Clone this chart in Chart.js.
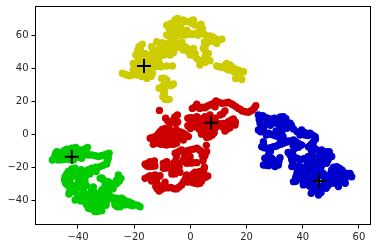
<!DOCTYPE html>
<html>
<head>
<meta charset="utf-8">
<style>
    html, body { margin: 0; padding: 0; background: #fff; }
    canvas { display: block; }
</style>
<script src="https://cdn.jsdelivr.net/npm/chart.js@4/dist/chart.umd.js"></script>
</head>
<body>
<canvas id="kmeans" width="377" height="248"></canvas>
<script>
const xTicks = [-40, -20, 0, 20, 40, 60];
const yTicks = [-40, -20, 0, 20, 40, 60];

const yellowX = [-24.2,-22.6,-20.9,-19.1,-17.3,-15.5,-14.0,-13.5,-14.9,-16.7,-18.5,-20.3,-20.3,-18.5,-19.4,-17.9,-18.3,-17.1,-16.1,-14.3,-12.6,-12.0,-13.2,-14.3,-15.5,-12.8,-13.8,-12.0,-10.8,-11.4,-9.6,-7.8,-7.2,-8.4,-6.6,-8.4,-5.5,-4.3,-2.5,-0.7,1.1,1.7,-0.1,-1.9,2.3,-12.0,-10.2,-8.4,-6.4,-10.2,-8.4,-9.4,-11.1,-9.2,-9.8,-9.0,-7.5,-6.6,-6.0,-8.4,-6.6,-5.5,-4.6,-6.0,-4.3,-2.5,-0.7,1.1,1.7,-0.1,-1.9,-3.7,-5.5,1.7,3.8,4.3,4.6,7.0,8.8,11.2,9.4,6.4,5.2,4.6,6.4,5.8,7.0,4.6,3.4,-1.3,-3.1,9.4,11.2,12.9,14.1,13.5,14.7,16.5,18.9,17.7,16.1,18.3];
const yellowY = [37.0,36.0,36.0,36.0,35.0,33.9,35.0,37.0,39.0,38.0,39.0,39.0,43.0,45.0,48.1,49.1,53.1,54.7,49.1,47.0,48.1,45.0,43.0,41.0,43.0,51.1,53.1,56.1,54.1,50.1,52.1,53.1,48.1,50.1,55.1,60.2,57.1,54.1,51.1,50.1,52.1,49.1,48.1,53.1,46.0,41.0,41.0,41.4,41.4,33.9,32.9,29.9,27.9,26.8,22.8,21.2,21.2,29.9,30.5,66.2,65.2,69.3,70.3,62.2,65.2,69.3,68.3,69.3,66.2,61.2,60.2,60.2,60.2,61.2,66.8,64.2,61.2,59.6,58.2,57.6,55.1,57.1,54.1,52.1,49.1,45.0,44.6,44.0,42.0,63.2,63.2,41.4,40.6,43.0,42.0,39.0,39.4,39.4,38.0,36.0,33.9,33.3];
const yellowMore = [[-23.4,36.5],[-21.7,35.5],[-20,37],[-18.2,37],[-16.4,36],[-15,36.5],[-19.4,41],[-17.5,42],[-16,45],[-14,45],[-17,47],[-15.5,47.5],[-18.8,50.5],[-17.8,51.5],[-13.5,49.5],[-12.4,46.5],[-13,41],[-11,43],[-11,47],[-10,50],[-9.5,48],[-10,55.5],[-8.8,55],[-7,51],[-5.5,52],[-6,49.5],[-3.5,52.5],[-1.5,51.5],[0.5,49],[-1,52],[-7,58],[-6.5,59.5],[-3,56],[1.5,47.5],[3,45],[-7.5,64],[-7,67],[-5.5,67],[-4,68],[-3.2,67],[-1.5,68.5],[0.3,67.5],[0.5,69],[-5,63],[-4.5,61.5],[-3,61],[-1,60.5],[0.8,60.5],[2.8,60],[3,62],[3.2,65.5],[5.5,60],[8,59],[10,57],[7.8,56.5],[6,55.5],[5,56],[5.2,53],[5.3,50.5],[6,47],[5.2,47],[5.3,43.5],[10.3,41],[12,41.5],[12.5,40],[15,40.5],[15.5,38],[17.5,38.5],[17,35],[-9.3,34],[-8.8,31.5],[-10,29],[-10,27.5],[-9.5,25],[-9.2,24],[-8.2,21],[-7,29.5]];

const redX = [-11.0,0.7,2.3,3.4,5.2,7.0,9.1,11.2,13.5,15.3,17.1,18.5,20.6,22.1,23.3,8.8,12.3,10.6,2.3,0.5,-0.9,1.7,3.4,5.2,7.0,8.8,10.0,8.8,7.0,4.6,4.0,5.8,7.8,3.4,11.7,13.5,15.3,15.9,14.1,12.3,11.4,5.7,-8.8,-7.2,-6.0,-4.6,-5.2,-0.9,0.5,-14.3,-12.6,-10.8,-13.2,-11.4,-9.0,-7.2,-4.9,-9.6,-7.8,-6.0,-4.3,-2.5,-0.7,-2.5,-4.9,-7.2,-9.6,-3.1,-5.4,-4.9,-1.9,-0.1,2.3,4.0,5.8,4.6,-0.1,-2.5,-1.3,2.3,1.1,-16.1,-14.3,-12.8,-14.9,-12.6,-9.6,-8.4,-9.6,-7.2,-6.0,-4.3,-4.9,-6.6,-3.7,-16.1,-14.3,-12.6,-10.8,-13.8,-12.0,-12.3,-11.1,-9.6,-9.0,-6.9,-4.9,-3.1,-1.9,-1.3,-0.1,1.7,3.4,4.6,6.2,5.0,3.4,1.7,4.6];
const redY = [14.5,15.7,18.2,15.7,16.1,17.8,20.2,18.8,19.4,17.8,15.7,14.1,13.3,14.7,17.4,16.7,14.1,11.7,10.7,7.7,5.2,4.6,7.7,10.7,11.7,9.7,6.6,3.6,2.6,2.6,0.1,-2.0,-0.4,4.6,6.6,7.7,9.3,5.6,4.0,2.0,4.6,-6.7,9.7,6.6,8.7,11.7,6.6,9.7,10.1,-2.4,-1.4,1.6,-6.1,-5.5,3.6,2.6,2.6,-1.4,-2.4,-1.4,-0.4,0.6,-1.4,-3.5,-5.5,-6.1,-6.1,-9.5,-11.5,-13.2,-11.5,-9.5,-8.5,-10.5,-10.5,-14.6,-13.6,-15.6,-17.6,-17.2,-17.2,-18.2,-16.6,-16.2,-19.6,-19.2,-17.6,-16.6,-20.6,-20.6,-17.6,-17.6,-21.0,-24.1,-23.0,-26.7,-25.1,-24.7,-25.1,-28.3,-29.1,-31.7,-34.4,-32.7,-29.1,-32.3,-33.1,-30.7,-27.7,-24.7,-28.7,-29.7,-29.7,-26.7,-25.3,-20.0,-22.6,-23.0,-23.6];
const redMore = [[1.5,16.5],[4.3,16.5],[6,17],[8,18.5],[10,19.5],[12.5,19],[14.5,18.5],[16.2,16.8],[17.8,15],[19.5,13.7],[21.3,14],[22.8,16],[11.5,12.5],[1,9],[2.3,8],[2.5,6.5],[4,9.5],[5,8],[6.3,9],[7,7],[8.5,7],[6,5],[7.5,4.5],[5,4],[3,3.3],[8.5,1],[6,0],[3.8,1.5],[6.8,-1.5],[9.3,5],[0,3.5],[12.5,5.5],[14.5,6.5],[16,7.5],[14.5,8.5],[13,3],[11,5],[-8,8],[-6.5,7.6],[-5.5,9.5],[-4.5,7.5],[-0.2,9.9],[-5.5,10.5],[-13.5,-2],[-13,-4],[-12,-3.5],[-11,-2.5],[-11.5,0],[-10,0.5],[-10,3],[-8.5,1],[-8,-4],[-6.5,-4],[-6,0.5],[-5,-3],[-3.5,-2],[-3.5,1.5],[-9.8,-4],[-10.5,-6],[-8.5,-6.5],[-6,-6],[-1.5,-0.5],[-4.2,-10.5],[-2.5,-10.5],[-1,-10],[1,-9],[3.2,-9.5],[4.8,-11],[4.2,-12.5],[5.2,-13],[4.5,-16],[-1,-13],[-2,-13.8],[-2,-16.8],[0.2,-17.5],[-15.2,-17.5],[-15.5,-19],[-13.5,-18],[-13.8,-19.5],[-8.8,-18.5],[-8.6,-20.5],[-8,-18],[-6.5,-19],[-5.5,-19.5],[-5.2,-15.8],[-4.8,-22.5],[-4,-20],[-5.5,-24],[-15.2,-26],[-13.5,-26.5],[-11.7,-26],[-13,-27],[-12.5,-27.5],[-11.7,-30.5],[-11.8,-33],[-10.4,-33.5],[-9.2,-30.5],[-8,-32.5],[-5.8,-33],[-4,-32],[-2.5,-29],[-1.6,-26],[-1,-29],[0.8,-29.2],[2.5,-30],[4,-28.3],[5.4,-26],[4.8,-21.5],[3,-24.5],[2,-25],[1,-24],[4,-25.2],[1,-26.5],[2.5,-27.5],[-0.5,-26.5]];

const greenX = [-49.1,-47.5,-46.4,-48.2,-47.0,-44.6,-44.0,-42.2,-40.8,-39.8,-41.6,-42.8,-38.1,-36.6,-36.9,-38.7,-35.1,-32.7,-30.6,-28.9,-29.2,-29.8,-32.1,-35.1,-37.5,-41.0,-43.4,-44.6,-44.4,-42.8,-41.0,-38.7,-36.9,-38.7,-43.2,-42.2,-40.4,-41.0,-39.2,-38.1,-39.8,-35.1,-36.3,-34.5,-32.7,-31.5,-30.9,-32.1,-29.2,-27.4,-25.6,-24.7,-26.2,-28.6,-29.8,-30.9,-32.7,-34.5,-36.3,-33.9,-31.5,-32.1,-26.8,-26.2,-24.4,-23.2,-25.0,-21.5,-19.7,-17.9,-22.0,-31.5];
const greenY = [-15.6,-10.5,-11.1,-13.5,-15.6,-15.2,-9.1,-8.5,-7.9,-11.5,-15.6,-11.5,-9.5,-7.9,-12.5,-14.6,-12.5,-13.5,-12.5,-11.5,-14.6,-18.0,-19.6,-20.6,-22.6,-20.6,-22.6,-25.7,-29.7,-27.7,-25.3,-26.7,-24.7,-29.7,-36.2,-33.7,-32.7,-39.8,-36.8,-33.7,-29.7,-33.7,-38.8,-37.8,-35.8,-33.7,-27.7,-26.7,-28.7,-29.7,-24.7,-26.7,-27.7,-32.7,-35.8,-38.8,-40.8,-42.8,-44.9,-46.9,-46.3,-42.8,-42.8,-38.8,-38.8,-42.8,-43.9,-42.8,-42.8,-43.9,-40.8,-37.8];
const greenMore = [[-48.3,-14.5],[-48,-11.8],[-46.8,-13],[-45.8,-15.4],[-45,-13.5],[-45,-10],[-43.5,-11],[-43,-13],[-43,-15.3],[-41.5,-10],[-41.2,-12.5],[-40.3,-14],[-39.3,-9.5],[-37.3,-8.7],[-37.7,-12],[-36,-12.5],[-37,-10.3],[-33.8,-13],[-31.7,-13],[-29.8,-12],[-29.6,-16.3],[-31,-18.8],[-33.6,-20],[-36.3,-21.5],[-38.8,-21.5],[-42.2,-21],[-44,-24],[-44.8,-27.7],[-43.7,-26],[-42,-25],[-43.6,-31],[-40,-22.7],[-38,-25],[-39.8,-27],[-37.5,-28],[-41.5,-31],[-43,-35],[-41.2,-35],[-40,-38.5],[-38.5,-38.3],[-38.2,-35.5],[-37.2,-36.2],[-35.7,-35.8],[-33.8,-35.5],[-34.5,-32],[-33.5,-37],[-32,-37.5],[-31.2,-36],[-30.5,-32],[-30.2,-30],[-28,-31],[-26.3,-30],[-25.3,-28.5],[-25.5,-26],[-30.3,-34],[-29,-34.5],[-27.5,-33],[-31.5,-26.5],[-30,-37],[-31.8,-39.5],[-33.5,-41.5],[-35.3,-43.8],[-35,-45.5],[-33,-44.5],[-31.8,-44.5],[-33,-46.8],[-25.5,-41],[-24.6,-41.5],[-27,-40.8],[-23.5,-40],[-24,-42.5],[-22.3,-42.5],[-20.7,-43.4],[-18.8,-43],[-20.8,-41.8],[-26,-44],[-35.8,-24],[-33.5,-22.5],[-37,-31],[-38,-31.5],[-35,-40],[-37.5,-40.5],[-39,-40.5],[-37,-42.5],[-30,-41],[-28.8,-39],[-28.5,-37.5],[-27.5,-38.5],[-30,-43]];

const blueX = [24.2,25.8,24.8,24.2,26.0,27.2,29.0,30.7,33.1,31.9,33.7,35.5,36.7,34.3,31.3,32.5,27.8,29.6,26.0,25.4,27.2,29.6,31.3,33.1,34.9,36.7,38.4,39.6,37.3,35.5,36.1,27.8,29.0,27.2,26.0,27.8,29.6,31.3,31.9,30.1,39.6,39.0,40.8,42.6,44.4,43.8,42.0,45.0,46.7,49.4,50.3,47.9,45.6,43.2,40.8,39.0,48.5,45.6,43.2,36.1,37.9,41.4,36.7,37.9,39.6,39.0,40.8,40.2,42.6,43.2,42.6,43.0,45.6,46.7,48.3,45.6,49.1,47.9,50.3,52.7,50.9,52.1,50.3,53.9,55.6,57.4,56.8,55.1,53.5,52.1,47.3];
const blueY = [11.7,11.3,6.7,2.6,2.6,7.7,8.7,8.7,10.7,5.6,6.7,6.7,3.2,3.6,0.6,0.6,0.6,-0.4,-4.5,-7.5,-8.5,-7.5,-6.5,-5.5,-4.1,-3.5,-5.5,-6.5,-8.5,-12.5,-15.6,-12.5,-14.6,-15.6,-18.6,-19.0,-18.6,-18.6,-14.2,-19.6,2.6,-0.4,-0.4,0.6,-1.4,-4.5,-7.5,-9.5,-9.5,-10.5,-13.5,-12.5,-13.5,-12.5,-14.6,-15.6,-17.6,-16.6,-16.6,-19.6,-20.6,-19.6,-28.7,-23.7,-22.6,-26.7,-25.7,-30.7,-22.6,-27.7,-31.7,-35.8,-36.8,-32.7,-32.7,-31.7,-27.7,-29.7,-29.7,-31.7,-25.7,-19.6,-21.6,-21.6,-23.7,-25.7,-23.7,-29.7,-26.7,-27.7,-23.7];
const blueMore = [[25,10],[24.5,9],[27,10],[28.1,9.5],[29.9,9.8],[32,10.5],[34,9.5],[32.5,8.3],[30,7],[31,6.5],[32.8,4.2],[32,3],[30.5,2],[34.7,5],[36,5.3],[25.2,4.5],[25,1.5],[28.5,5.5],[26.2,4.8],[28.5,0],[27,-0.5],[30.5,-1],[32,-3],[33,-1.5],[26,-6],[26.3,-8.2],[28.5,-8.2],[30.5,-7.2],[32.2,-6],[34,-4.8],[36,-4],[37.5,-4.5],[36.5,-6.5],[36.3,-10.5],[36,-14],[34.8,-11],[38.5,-7.8],[38,1.5],[40.8,1],[41.8,-0.8],[43.5,-0.5],[44.5,-3],[43,-6],[44,-8],[43,-9.5],[46,-11],[48.5,-10.5],[49.5,-12],[47,-11.3],[49,-14],[47.5,-15],[46,-15],[44.5,-15],[43,-14.5],[42,-13.5],[41.5,-16],[40,-15],[38,-14.5],[42,-17.5],[44,-18],[47,-18],[46.5,-20],[44.5,-20],[42.8,-20],[49,-15.7],[48.5,-16],[36.5,-18],[38.5,-19],[40,-20],[39.5,-21.5],[41,-22],[43.5,-23],[45,-23],[46,-25],[47.5,-25.8],[44.5,-26],[41.5,-24],[42,-26.5],[38.5,-24.5],[37.5,-26],[37.5,-28.5],[41.3,-28],[40,-28.5],[41.3,-30.5],[44,-29.5],[44.5,-32],[43.8,-34],[45,-34.5],[46.5,-35.3],[47.2,-31],[49,-31],[50.5,-27.5],[51.5,-28.5],[52,-30],[48.8,-25.5],[50,-23.5],[51.5,-23],[52,-21],[51,-20],[53,-20.5],[54.5,-23],[53.5,-24.5],[55,-25.5],[56.5,-25],[55,-27.5],[54.5,-29],[28.5,-10.5],[28,-14],[28,-17],[30.5,-16],[31.5,-16.5],[29,-17],[27,-18.8],[26.5,-14.5],[36.5,-12.5]];

const centerX = [-16.5, 7.4, -42.2, 45.8];
const centerY = [41.4, 7.0, -13.6, -28.3];

function toPoints(xs, ys) {
    return xs.map((x, i) => ({ x: x, y: ys[i] }));
}

function cluster(xs, ys, more, color) {
    return {
        data: toPoints(xs, ys).concat(more.map(p => ({ x: p[0], y: p[1] }))),
        backgroundColor: color,
        borderWidth: 0,
        pointRadius: 3.7,
        pointHoverRadius: 3.7
    };
}

// matplotlib style box, chart.js only gives left and bottom here
const boxPlugin = {
    id: 'box',
    beforeDatasetsDraw(chart) {
        const a = chart.chartArea;
        const ctx = chart.ctx;
        ctx.save();
        ctx.strokeStyle = '#000';
        ctx.lineWidth = 1;
        ctx.strokeRect(a.left, a.top, a.right - a.left, a.bottom - a.top);
        ctx.restore();
    }
};

const tickFormat = v => String(v).replace('-', '\u2212');

function noPadding(scale) {
    scale.paddingTop = 0;
    scale.paddingBottom = 0;
    scale.paddingLeft = 0;
    scale.paddingRight = 0;
}

new Chart(document.getElementById('kmeans'), {
    type: 'scatter',
    data: {
        datasets: [
            {
                data: toPoints(centerX, centerY),
                pointStyle: 'cross',
                pointRadius: 7,
                pointBorderColor: '#000',
                pointBorderWidth: 2,
                borderColor: '#000'
            },
            cluster(blueX, blueY, blueMore, '#0000cc'),
            cluster(greenX, greenY, greenMore, '#00cc00'),
            cluster(redX, redY, redMore, '#cc0000'),
            cluster(yellowX, yellowY, yellowMore, '#cccc00')
        ]
    },
    options: {
        responsive: false,
        animation: false,
        layout: { autoPadding: false, padding: { top: 6.5, right: 6.5, left: 0, bottom: 0 } },
        plugins: { legend: { display: false }, tooltip: { enabled: false } },
        scales: {
            x: {
                type: 'linear',
                min: -55.1,
                max: 64.1,
                afterFit(scale) { scale.height = 23.5; noPadding(scale); },
                afterBuildTicks(scale) { scale.ticks = xTicks.map(v => ({ value: v })); },
                grid: { drawOnChartArea: false, tickLength: 4, tickColor: '#000' },
                border: { color: '#000' },
                ticks: {
                    callback: tickFormat,
                    color: '#262626',
                    padding: 3,
                    maxRotation: 0,
                    autoSkip: false,
                    font: { family: 'DejaVu Sans', size: 10 }
                }
            },
            y: {
                type: 'linear',
                min: -54.7,
                max: 77.5,
                afterFit(scale) { scale.width = 35.5; noPadding(scale); },
                afterBuildTicks(scale) { scale.ticks = yTicks.map(v => ({ value: v })); },
                grid: { drawOnChartArea: false, tickLength: 4, tickColor: '#000' },
                border: { color: '#000' },
                ticks: {
                    callback: tickFormat,
                    color: '#262626',
                    padding: 3,
                    autoSkip: false,
                    font: { family: 'DejaVu Sans', size: 10 }
                }
            }
        }
    },
    plugins: [boxPlugin]
});
</script>
</body>
</html>
